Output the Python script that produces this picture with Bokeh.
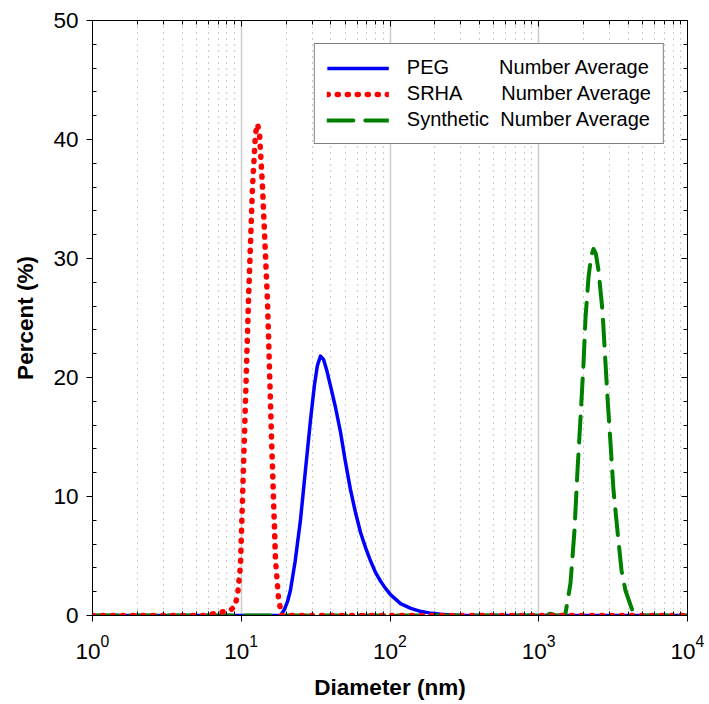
from bokeh.plotting import figure
from bokeh.models import FixedTicker, LogAxis, LinearAxis, Legend, LegendItem, Range1d
from bokeh.embed import file_html
from bokeh.resources import INLINE

# ---- data ----
peg_x = [1, 18.4, 19.5, 20.5, 21.4, 23.0, 25.0, 27.0, 29.2, 31.0, 32.5, 34.1, 35.8, 37.4, 39.8, 43.0,
         46.5, 50.0, 54.2, 58.5, 63.3, 68.5, 73.9, 80.0, 86.3, 93.0, 100.8, 117.7, 138, 160, 190, 218, 260, 300, 10000]
peg_y = [0, 0, 0.5, 1.2, 2.1, 4.5, 8.0, 12.2, 16.4, 19.3, 21.0, 21.8, 21.5, 20.7, 19.3, 17.5,
         15.4, 13.0, 10.6, 8.7, 7.0, 5.7, 4.6, 3.6, 2.9, 2.3, 1.75, 1.0, 0.6, 0.35, 0.18, 0.1, 0.04, 0, 0]

srha_x = [1, 5.75, 7.14, 8.47, 9.1, 9.5, 9.88, 10.5, 11.2, 11.9, 12.47, 12.86, 13.27, 13.9, 15.0,
          15.97, 17.0, 17.8, 18.65, 10000]
srha_y = [0, 0, 0.25, 0.45, 0.8, 2.0, 4.2, 15.0, 26.7, 36.0, 40.5, 41.3, 40.5, 36.0, 26.5,
          15.0, 4.6, 1.5, 0, 0]

syn_x = [1, 1100, 1199, 1300, 1467, 1514, 1634, 1738, 1822, 1909, 2000, 2062, 2160, 2250, 2334,
         2420, 2522, 2683, 2810, 2899, 3036, 3181, 3383, 3600, 3828, 4266, 4830, 10000]
syn_y = [0, 0, 0.15, 0, 0, 0.2, 2.7, 7.1, 12.2, 16.6, 21.2, 25.0, 28.4, 30.2, 30.8,
         30.4, 29.0, 25.6, 21.2, 18.3, 14.5, 10.5, 7.1, 3.8, 2.1, 0.4, 0, 0]

labels = ["PEG" + "\u00a0" * 9 + "Number Average",
          "SRHA" + "\u00a0" * 7 + "Number Average",
          "Synthetic" + "\u00a0" * 2 + "Number Average"]

x_major = [1, 10, 100, 1000, 10000]
x_minor = [m * d for d in [1, 10, 100, 1000] for m in range(2, 10)]
y_major = [0, 10, 20, 30, 40, 50]
y_minor = [v for v in range(2, 50, 2) if v % 10 != 0]

FONT = "Liberation Sans"

p = figure(width=709, height=704, x_axis_type="log",
           x_range=Range1d(1, 10000), y_range=Range1d(0, 50),
           output_backend="svg", toolbar_location=None,
           min_border_left=92, min_border_right=22, min_border_top=20, min_border_bottom=89)
p.background_fill_color = "white"
p.border_fill_color = "white"
p.outline_line_color = "black"
p.outline_line_width = 1

xt = FixedTicker(ticks=x_major, minor_ticks=x_minor)
yt = FixedTicker(ticks=y_major, minor_ticks=y_minor)

p.xaxis.ticker = xt
p.yaxis.ticker = yt
p.xgrid.ticker = xt
p.xgrid.grid_line_color = "#cccccc"
p.xgrid.grid_line_width = 1.5
p.xgrid.minor_grid_line_color = "#999999"
p.xgrid.minor_grid_line_dash = "1 5"
p.xgrid.minor_grid_line_width = 1
p.ygrid.visible = False

for ax in (p.xaxis[0], p.yaxis[0]):
    ax.axis_line_color = "black"
    ax.major_tick_line_color = "black"
    ax.minor_tick_line_color = "black"
    ax.major_tick_out = 6
    ax.major_tick_in = 0
    ax.minor_tick_in = 4
    ax.minor_tick_out = 0
    ax.major_label_text_font = FONT
    ax.major_label_text_font_size = "22.5px"
    ax.major_label_text_color = "black"
    ax.axis_label_text_font = FONT
    ax.axis_label_text_font_size = "22.5px"
    ax.axis_label_text_font_style = "bold"
    ax.axis_label_text_color = "black"

p.xaxis.axis_label = "Diameter (nm)"
p.yaxis.axis_label = "Percent (%)"
p.xaxis.major_label_standoff = 13
p.xaxis.axis_label_standoff = 13
p.yaxis.major_label_standoff = 8
p.yaxis.axis_label_standoff = 12

top = LogAxis(ticker=xt, major_tick_in=6, major_tick_out=0, minor_tick_in=4, minor_tick_out=0,
              major_label_text_font_size="1px", major_label_text_color=None, major_label_standoff=0,
              axis_line_color="black",
              major_tick_line_color="black", minor_tick_line_color="black")
right = LinearAxis(ticker=yt, major_tick_in=6, major_tick_out=0, minor_tick_in=4, minor_tick_out=0,
                   major_label_text_font_size="1px", major_label_text_color=None, major_label_standoff=0,
                   axis_line_color="black",
                   major_tick_line_color="black", minor_tick_line_color="black")
p.add_layout(top, "above")
p.add_layout(right, "right")

r_peg = p.line(peg_x, peg_y, line_color="#0000ff", line_width=3.5, line_join="round")
r_syn = p.line(syn_x, syn_y, line_color="#008000", line_width=4, line_dash="26 12",
               line_cap="round", line_join="round")
r_srha = p.line(srha_x, srha_y, line_color="#ff0000", line_width=5.5, line_dash="1 9",
                line_cap="round", line_join="round")

legend = Legend(items=[LegendItem(label=labels[0], renderers=[r_peg]),
                       LegendItem(label=labels[1], renderers=[r_srha]),
                       LegendItem(label=labels[2], renderers=[r_syn])],
                location="top_right", margin=23, padding=12, spacing=3,
                glyph_width=62, glyph_height=20, label_height=22, label_standoff=18,
                label_text_font=FONT, label_text_font_size="20px", label_text_color="black",
                border_line_color="black", border_line_width=1.2,
                background_fill_color="white", background_fill_alpha=1.0)
p.add_layout(legend, "center")

open("out.html", "w").write(file_html(p, INLINE))
